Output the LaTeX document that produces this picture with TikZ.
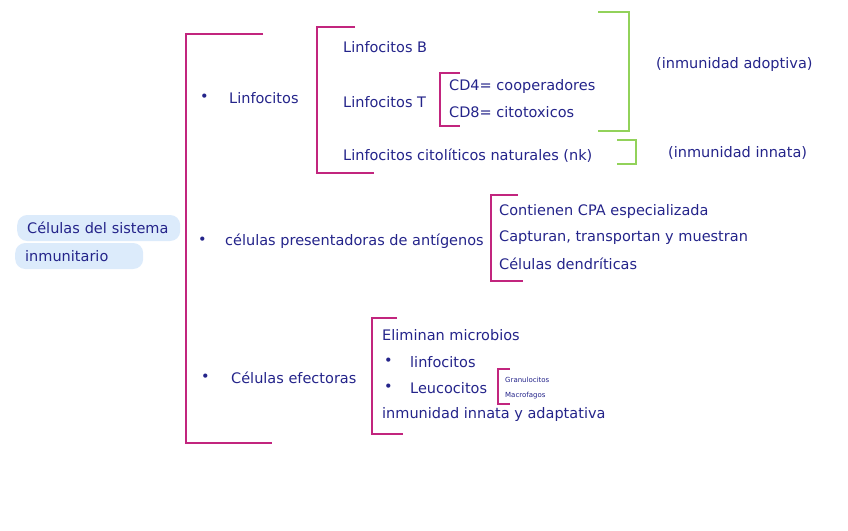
\documentclass[tikz,border=0pt]{standalone}
\usepackage{fontspec}
\setmainfont{DejaVu Sans}
\begin{document}
\begin{tikzpicture}[x=1pt,y=-1pt,
  mag/.style={draw=magc,line width=1.5pt},
  grn/.style={draw=grnc,line width=1.5pt},
  txt/.style={anchor=west,text=navyc,font=\fontsize{14.5}{16}\selectfont,inner sep=0pt},
  tiny/.style={anchor=west,text=navyc,font=\fontsize{7}{8}\selectfont,inner sep=0pt},
  pill/.style={fill=pillc,rounded corners=10pt,anchor=west,text=navyc,font=\fontsize{14.5}{16}\selectfont,minimum height=26pt,inner xsep=10pt,align=left}]
\definecolor{magc}{HTML}{C2257E}
\definecolor{grnc}{HTML}{92D25A}
\definecolor{navyc}{HTML}{24248A}
\definecolor{pillc}{HTML}{DCEBFB}
\useasboundingbox (0,0) rectangle (848,530);
% root
\node[pill,text width=143pt] (r1) at (17,228) {Células del sistema};
\node[pill,text width=108pt] (r2) at (15,256) {inmunitario};
% brackets
\draw[mag] (263,34) -- (186,34) -- (186,443) -- (272,443);
\draw[mag] (355,27) -- (317,27) -- (317,173) -- (374,173);
\draw[mag] (460,73) -- (440,73) -- (440,126) -- (460,126);
\draw[grn] (598,12) -- (629,12) -- (629,131) -- (598,131);
\draw[grn] (617,140) -- (636,140) -- (636,164) -- (617,164);
\draw[mag] (518,195) -- (491,195) -- (491,281) -- (523,281);
\draw[mag] (397,318) -- (372,318) -- (372,434) -- (403,434);
\draw[mag] (510,369) -- (498,369) -- (498,404) -- (510,404);
% level 1
\node[txt] (b1) at (200,98) {•};
\node[txt] (l1) at (229,98) {Linfocitos};
\node[txt] (b2) at (198,241) {•};
\node[txt] (l2) at (225,241) {células presentadoras de antígenos};
\node[txt] (b3) at (201,378) {•};
\node[txt] (l3) at (231,378) {Células efectoras};
% linfocitos
\node[txt] (lb) at (343,47) {Linfocitos B};
\node[txt] (lt) at (343,102) {Linfocitos T};
\node[txt] (cd4) at (449,86) {CD4= cooperadores};
\node[txt] (cd8) at (449,112) {CD8= citotoxicos};
\node[txt] (nk) at (343,156) {Linfocitos citolíticos naturales (nk)};
\node[txt] (ia) at (656,64) {(inmunidad adoptiva)};
\node[txt] (ii) at (668,153) {(inmunidad innata)};
% CPA
\node[txt] (c1) at (499,211) {Contienen CPA especializada};
\node[txt] (c2) at (499,238) {Capturan, transportan y muestran};
\node[txt] (c3) at (499,264) {Células dendríticas};
% efectoras
\node[txt] (e1) at (382,335) {Eliminan microbios};
\node[txt] (e2b) at (384,362) {•};
\node[txt] (e2) at (410,362) {linfocitos};
\node[txt] (e3b) at (384,388) {•};
\node[txt] (e3) at (410,388) {Leucocitos};
\node[txt] (e4) at (382,414) {inmunidad innata y adaptativa};
\node[tiny] (g1) at (505,380) {Granulocitos};
\node[tiny] (g2) at (505,396) {Macrofagos};
\end{tikzpicture}
\end{document}
